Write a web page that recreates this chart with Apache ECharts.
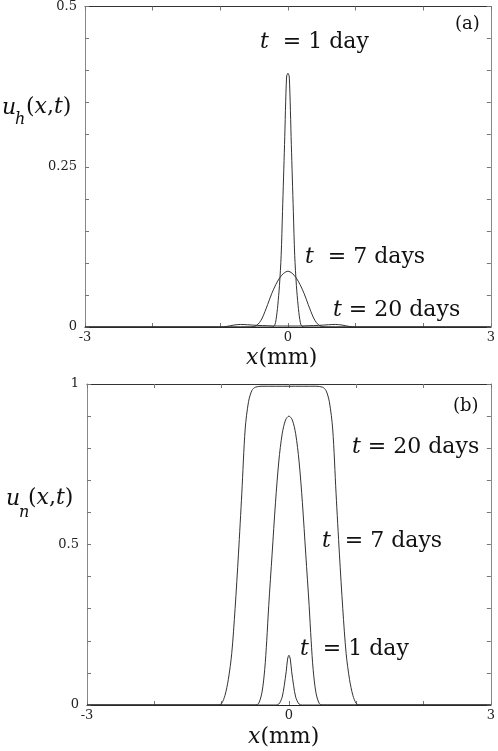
<!DOCTYPE html>
<html>
<head>
<meta charset="utf-8">
<script src="https://cdn.jsdelivr.net/npm/echarts@6/dist/echarts.min.js"></script>
<style>html,body{margin:0;padding:0;background:#fff}#c{width:498px;height:751px}</style>
</head>
<body>
<div id="c"></div>
<script>
// ---- tick labels ----
const X_LABELS = [-3, 0, 3];
const UH_Y_LABELS = [0, 0.25, 0.5];
const UN_Y_LABELS = [0, 0.5, 1];

// ---- (a) u_h(x,t) ----
const uh1_x = [-3, -0.25, -0.2, -0.175, -0.15, -0.125, -0.1, -0.08, -0.05, -0.02, 0, 0.02, 0.05, 0.08, 0.1, 0.125, 0.15, 0.175, 0.2, 0.25, 3];
const uh1_y = [0, 0, 0.002, 0.012, 0.034, 0.065, 0.112, 0.18, 0.285, 0.39, 0.396, 0.39, 0.285, 0.18, 0.112, 0.065, 0.034, 0.012, 0.002, 0, 0];

const uh7_x = [-3, -0.55, -0.47, -0.42, -0.38, -0.34, -0.3, -0.24, -0.18, -0.12, -0.06, 0, 0.06, 0.12, 0.18, 0.24, 0.3, 0.34, 0.38, 0.42, 0.47, 0.55, 3];
const uh7_y = [0, 0, 0.002, 0.007, 0.014, 0.024, 0.035, 0.052, 0.066, 0.077, 0.084, 0.087, 0.084, 0.077, 0.066, 0.052, 0.035, 0.024, 0.014, 0.007, 0.002, 0, 0];

const uh20_x = [-3, -1.0, -0.9, -0.8, -0.7, -0.6, -0.45, -0.3, -0.15, 0, 0.15, 0.3, 0.45, 0.6, 0.7, 0.8, 0.9, 1.0, 3];
const uh20_y = [0, 0, 0.001, 0.003, 0.004, 0.0035, 0.0025, 0.002, 0.0015, 0.0015, 0.0015, 0.002, 0.0025, 0.0035, 0.004, 0.003, 0.001, 0, 0];

// ---- (b) u_n(x,t) ----
const un1_x = [-3, -0.2, -0.15, -0.1, -0.07, -0.04, -0.02, 0, 0.02, 0.04, 0.07, 0.1, 0.15, 0.2, 3];
const un1_y = [0, 0, 0.003, 0.025, 0.06, 0.105, 0.143, 0.155, 0.143, 0.105, 0.06, 0.025, 0.003, 0, 0];

const un7_x = [-3, -0.5, -0.45, -0.4, -0.36, -0.33, -0.3, -0.25, -0.2, -0.15, -0.1, -0.05, 0, 0.05, 0.1, 0.15, 0.2, 0.25, 0.3, 0.33, 0.36, 0.4, 0.45, 0.5, 3];
const un7_y = [0, 0, 0.005, 0.04, 0.11, 0.2, 0.31, 0.47, 0.63, 0.76, 0.845, 0.888, 0.9, 0.888, 0.845, 0.76, 0.63, 0.47, 0.31, 0.2, 0.11, 0.04, 0.005, 0, 0];

const un20_x = [-3, -1.05, -1.0, -0.95, -0.9, -0.85, -0.8, -0.75, -0.7, -0.65, -0.6, -0.55, -0.5, -0.4, 0, 0.4, 0.5, 0.55, 0.6, 0.65, 0.7, 0.75, 0.8, 0.85, 0.9, 0.95, 1.0, 1.05, 3];
const un20_y = [0, 0, 0.005, 0.03, 0.08, 0.16, 0.3, 0.47, 0.66, 0.86, 0.945, 0.98, 0.99, 0.993, 0.993, 0.993, 0.99, 0.98, 0.945, 0.86, 0.66, 0.47, 0.3, 0.16, 0.08, 0.03, 0.005, 0, 0];

const zip = (xs, ys) => xs.map((x, i) => [x, ys[i]]);
const FONT = 'DejaVu Serif';
const near = (v, list) => list.some(l => Math.abs(v - l) < 1e-6);

function xAx(grid, bottom) {
  return {
    type: 'value', gridIndex: grid, min: -3, max: 3, interval: 1,
    position: bottom ? 'bottom' : 'top',
    axisLine: { show: true, onZero: false, lineStyle: { color: bottom ? '#222' : '#333', width: 1 } },
    axisTick: { show: true, inside: true, length: 4, lineStyle: { color: '#777' } },
    axisLabel: bottom ? {
      show: true, fontFamily: FONT, fontSize: 13, color: '#222', margin: 4,
      formatter: v => near(v, X_LABELS) ? String(Math.round(v)) : ''
    } : { show: false },
    splitLine: { show: false }
  };
}
function yAx(grid, left, max, interval, labels) {
  return {
    type: 'value', gridIndex: grid, min: 0, max: max, interval: interval,
    position: left ? 'left' : 'right',
    axisLine: { show: true, onZero: false, lineStyle: { color: '#888', width: 1 } },
    axisTick: { show: true, inside: true, length: 4, lineStyle: { color: '#777' } },
    axisLabel: left ? {
      show: true, fontFamily: FONT, fontSize: 13, color: '#222', margin: 8,
      formatter: v => near(v, labels) ? String(+v.toFixed(2)) : ''
    } : { show: false },
    splitLine: { show: false }
  };
}
function line(xi, yi, xs, ys) {
  return {
    type: 'line', xAxisIndex: xi, yAxisIndex: yi, data: zip(xs, ys),
    showSymbol: false, smooth: 0.3, clip: true, silent: true,
    lineStyle: { color: '#333', width: 1 }
  };
}
function txt(left, top, text, size, rich) {
  return {
    type: 'text', left: left, top: top, silent: true,
    style: { text: text, fontFamily: FONT, fontSize: size, fill: '#111', rich: rich || {} }
  };
}
const RI = { i: { fontFamily: FONT, fontStyle: 'italic', fontSize: 22, fill: '#111' } };
const RN = { fontFamily: FONT, fontSize: 22 };

const chart = echarts.init(document.getElementById('c'), null, { renderer: 'canvas' });
chart.setOption({
  animation: false,
  backgroundColor: '#fff',
  grid: [
    { left: 85, top: 5, width: 408, height: 322 },
    { left: 87, top: 384, width: 408, height: 321 }
  ],
  xAxis: [xAx(0, true), xAx(0, false), xAx(1, true), xAx(1, false)],
  yAxis: [
    yAx(0, true, 0.5, 0.05, UH_Y_LABELS), yAx(0, false, 0.5, 0.05, UH_Y_LABELS),
    yAx(1, true, 1, 0.1, UN_Y_LABELS), yAx(1, false, 1, 0.1, UN_Y_LABELS)
  ],
  series: [
    line(0, 0, uh1_x, uh1_y), line(0, 0, uh7_x, uh7_y), line(0, 0, uh20_x, uh20_y),
    line(2, 2, un1_x, un1_y), line(2, 2, un7_x, un7_y), line(2, 2, un20_x, un20_y)
  ],
  graphic: [
    // panel labels
    txt(455, 15, '(a)', 18), txt(453, 397, '(b)', 18),
    // annotations (a)
    txt(260, 31, '{i|t}  = 1 day', 22, RI),
    txt(305, 246, '{i|t}  = 7 days', 22, RI),
    txt(333, 299, '{i|t} = 20 days', 22, RI),
    // annotations (b)
    txt(352, 436, '{i|t} = 20 days', 22, RI),
    txt(322, 530, '{i|t}  = 7 days', 22, RI),
    txt(300, 638, '{i|t}  = 1 day', 22, RI),
    // x axis titles
    txt(246, 347, '{i|x}(mm)', 22, RI),
    txt(248, 726, '{i|x}(mm)', 22, RI),
    // y axis titles
    txt(2, 97, '{i|u}', 22, RI), txt(15, 112, '{s|h}', 16, { s: { fontFamily: FONT, fontStyle: 'italic', fontSize: 16, fill: '#111' } }),
    txt(26, 96, '({i|x},{i|t})', 22, RI),
    txt(6, 488, '{i|u}', 22, RI), txt(19, 505, '{s|n}', 16, { s: { fontFamily: FONT, fontStyle: 'italic', fontSize: 16, fill: '#111' } }),
    txt(28, 487, '({i|x},{i|t})', 22, RI)
  ]
});
</script>
</body>
</html>
